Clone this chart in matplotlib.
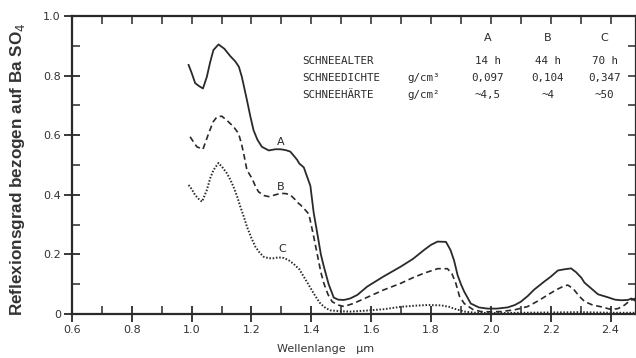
# Reflexionsgrad von Schnee (A, B, C) ueber der Wellenlaenge
import numpy as np
import matplotlib
matplotlib.use('Agg')
import matplotlib.pyplot as plt
from matplotlib.ticker import MultipleLocator

# Kurve A (durchgezogen)
x_a = [0.99, 1.00, 1.012, 1.025, 1.038, 1.051, 1.062, 1.073, 1.09, 1.11, 1.129, 1.146, 1.158,
       1.168, 1.185, 1.196, 1.207, 1.22, 1.235, 1.258, 1.28, 1.297, 1.315, 1.33, 1.345, 1.353,
       1.36, 1.375, 1.386, 1.397, 1.408, 1.42, 1.432, 1.442, 1.458, 1.475, 1.49, 1.509, 1.53,
       1.554, 1.587, 1.64, 1.699, 1.74, 1.777, 1.80, 1.822, 1.85, 1.865, 1.877, 1.889, 1.90,
       1.911, 1.933, 1.96, 1.989, 2.02, 2.056, 2.08, 2.10, 2.123, 2.145, 2.18, 2.20, 2.224,
       2.246, 2.268, 2.285, 2.302, 2.313, 2.335, 2.358, 2.391, 2.415, 2.436, 2.458, 2.47, 2.48, 2.49]
y_a = [0.836, 0.81, 0.775, 0.765, 0.757, 0.796, 0.845, 0.886, 0.905, 0.89, 0.866, 0.848, 0.83,
       0.796, 0.718, 0.665, 0.617, 0.585, 0.561, 0.549, 0.553, 0.553, 0.55, 0.545, 0.527, 0.517,
       0.505, 0.492, 0.461, 0.43, 0.34, 0.271, 0.2, 0.159, 0.1, 0.055, 0.048, 0.047, 0.052,
       0.064, 0.092, 0.125, 0.159, 0.185, 0.215, 0.232, 0.243, 0.242, 0.215, 0.18, 0.13, 0.1,
       0.075, 0.035, 0.022, 0.018, 0.018, 0.022, 0.03, 0.041, 0.06, 0.082, 0.11, 0.125, 0.146,
       0.15, 0.153, 0.14, 0.122, 0.105, 0.086, 0.066, 0.056, 0.048, 0.046, 0.047, 0.052, 0.046, 0.040]

# Kurve B (gestrichelt)
x_b = [0.995, 1.008, 1.018, 1.038, 1.057, 1.072, 1.085, 1.101, 1.12, 1.14, 1.157, 1.167, 1.174,
       1.185, 1.202, 1.215, 1.224, 1.24, 1.258, 1.28, 1.297, 1.315, 1.33, 1.345, 1.353, 1.364,
       1.375, 1.392, 1.408, 1.42, 1.432, 1.442, 1.456, 1.47, 1.49, 1.509, 1.54, 1.587, 1.64,
       1.699, 1.74, 1.777, 1.822, 1.855, 1.87, 1.883, 1.895, 1.911, 1.94, 1.967, 2.0, 2.034,
       2.08, 2.123, 2.16, 2.19, 2.22, 2.245, 2.257, 2.275, 2.295, 2.313, 2.34, 2.369, 2.402,
       2.425, 2.447, 2.465, 2.49]
y_b = [0.595, 0.575, 0.561, 0.553, 0.606, 0.645, 0.662, 0.664, 0.648, 0.629, 0.606, 0.57, 0.539,
       0.483, 0.455, 0.425, 0.41, 0.398, 0.394, 0.4, 0.405, 0.404, 0.40, 0.385, 0.375, 0.366,
       0.355, 0.335, 0.26, 0.2, 0.14, 0.103, 0.065, 0.041, 0.03, 0.025, 0.035, 0.056, 0.08,
       0.103, 0.122, 0.137, 0.152, 0.152, 0.135, 0.103, 0.06, 0.035, 0.015, 0.008, 0.007, 0.008,
       0.014, 0.025, 0.045, 0.064, 0.082, 0.094, 0.097, 0.085, 0.06, 0.042, 0.03, 0.024, 0.015,
       0.018, 0.03, 0.045, 0.055]

# Kurve C (punktiert)
x_c = [0.99, 1.0, 1.012, 1.025, 1.035, 1.051, 1.062, 1.073, 1.09, 1.105, 1.118, 1.13, 1.14,
       1.152, 1.163, 1.175, 1.185, 1.2, 1.213, 1.228, 1.241, 1.258, 1.274, 1.29, 1.308, 1.325,
       1.341, 1.36, 1.375, 1.39, 1.408, 1.42, 1.431, 1.448, 1.464, 1.50, 1.531, 1.58, 1.643,
       1.699, 1.75, 1.788, 1.833, 1.86, 1.877, 1.911, 1.95, 2.0, 2.1, 2.2, 2.3, 2.4, 2.49]
y_c = [0.433, 0.42, 0.399, 0.385, 0.377, 0.416, 0.455, 0.483, 0.507, 0.49, 0.472, 0.45, 0.427,
       0.395, 0.36, 0.325, 0.293, 0.255, 0.226, 0.205, 0.192, 0.187, 0.187, 0.19, 0.188, 0.18,
       0.168, 0.15, 0.125, 0.1, 0.069, 0.05, 0.034, 0.02, 0.012, 0.009, 0.008, 0.011, 0.016,
       0.024, 0.028, 0.03, 0.029, 0.024, 0.018, 0.008, 0.004, 0.003, 0.004, 0.005, 0.006, 0.004, 0.004]

# Tabelle oben rechts
zeilen = ['SCHNEEALTER', 'SCHNEEDICHTE', 'SCHNEEHÄRTE']
einheiten = ['', 'g/cm³', 'g/cm²']
spalten = ['A', 'B', 'C']
werte = [['14 h', '44 h', '70 h'],
         ['0,097', '0,104', '0,347'],
         ['~4,5', '~4', '~50']]

farbe = '#2a2a2a'

fig = plt.figure(figsize=(6.36, 3.58), dpi=100)
ax = fig.add_axes([0.113, 0.123, 0.887, 0.832])

ax.plot(x_a, y_a, color=farbe, lw=1.3, ls='-')
ax.plot(x_b, y_b, color=farbe, lw=1.2, dashes=(3.5, 2.2))
ax.plot(x_c, y_c, color=farbe, lw=1.4, ls=(0, (0.8, 0.9)))

ax.set_xlim(0.6, 2.485)
ax.set_ylim(0, 1.0)

# Achsen / Ticks
for s in ax.spines.values():
    s.set_linewidth(1.6)
    s.set_color(farbe)
ax.xaxis.set_major_locator(MultipleLocator(0.2))
ax.xaxis.set_minor_locator(MultipleLocator(0.1))
ax.yaxis.set_major_locator(MultipleLocator(0.2))
ax.yaxis.set_minor_locator(MultipleLocator(0.1))
ax.tick_params(which='major', direction='inout', length=12, width=1.3, color=farbe,
               labelsize=8, labelcolor='#333333', pad=2)
ax.tick_params(which='minor', direction='in', length=6, width=1.1, color=farbe)
ax.xaxis.set_major_formatter(plt.FuncFormatter(lambda v, p: f'{v:.1f}'))
ax.yaxis.set_major_formatter(plt.FuncFormatter(lambda v, p: '0' if abs(v) < 1e-9 else f'{v:.1f}'))

# obere und rechte Ticks nur nach innen
sec_top = ax.secondary_xaxis('top')
sec_top.xaxis.set_major_locator(MultipleLocator(0.1))
sec_top.tick_params(direction='in', length=6, width=1.1, color=farbe, labeltop=False)
sec_top.spines['top'].set_visible(False)
sec_r = ax.secondary_yaxis('right')
sec_r.yaxis.set_major_locator(MultipleLocator(0.1))
sec_r.tick_params(direction='in', length=6, width=1.1, color=farbe, labelright=False)
sec_r.spines['right'].set_visible(False)

ax.set_ylabel('Reflexionsgrad bezogen auf Ba SO$_4$', family='Liberation Sans',
              fontsize=12.3, fontweight='bold', color='#333333')
ax.yaxis.set_label_coords(-0.08, 0.485)
ax.set_xlabel('Wellenlange   µm', fontsize=8, color='#333333', labelpad=3)
ax.xaxis.set_label_coords(0.45, -0.1)

# Kurvenbeschriftung
ax.text(1.297, 0.56, 'A', fontsize=8, color=farbe, ha='center', va='bottom')
ax.text(1.297, 0.41, 'B', fontsize=8, color=farbe, ha='center', va='bottom')
ax.text(1.302, 0.20, 'C', fontsize=8, color=farbe, ha='center', va='bottom')

# Tabelle
mono = 'DejaVu Sans Mono'
zeilen_y = [0.849, 0.792, 0.735]
spalten_x = [1.99, 2.19, 2.38]
for xs, name in zip(spalten_x, spalten):
    ax.text(xs, 0.926, name, fontsize=8, color=farbe, ha='center', va='center')
for i, (z, e) in enumerate(zip(zeilen, einheiten)):
    ax.text(1.37, zeilen_y[i], z, family=mono, fontsize=7.8, color=farbe, va='center')
    if e:
        ax.text(1.72, zeilen_y[i], e, family=mono, fontsize=7.8, color=farbe, va='center')
    for xs, w in zip(spalten_x, werte[i]):
        ax.text(xs, zeilen_y[i], w, family=mono, fontsize=7.8, color=farbe,
                ha='center', va='center')

fig.savefig('out.png', dpi=100)
